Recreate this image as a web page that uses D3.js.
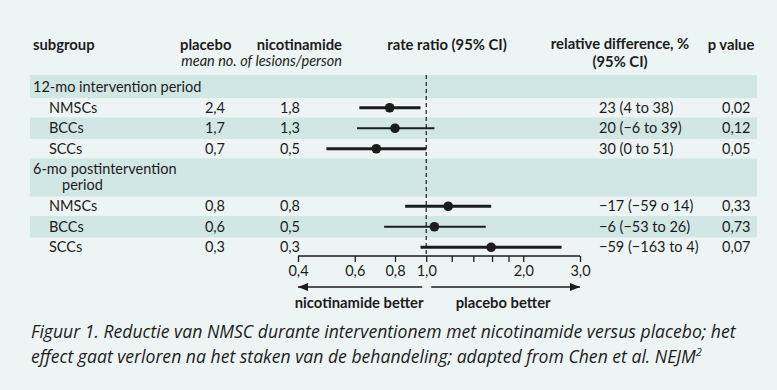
<!DOCTYPE html>
<html>
<head>
<meta charset="utf-8">
<script src="https://cdn.jsdelivr.net/npm/d3@7"></script>
<style>
    body { margin: 0; background: #ecf5f3; }
    svg { display: block; font-family: Lato, "Open Sans", sans-serif; }
</style>
</head>
<body>
<div class="curr-graff"></div>
<script>
// Data
const periods = ["12-mo intervention period", "6-mo postintervention period"];
const subgroups = ["NMSCs", "BCCs", "SCCs", "NMSCs", "BCCs", "SCCs"];
const rowPeriod = [0, 0, 0, 1, 1, 1];
const placeboMean = ["2,4", "1,7", "0,7", "0,8", "0,6", "0,3"];
const nicotinamideMean = ["1,8", "1,3", "0,5", "0,8", "0,5", "0,3"];
const rateRatio = [0.77, 0.80, 0.70, 1.17, 1.06, 1.59];
const ciLow = [0.62, 0.61, 0.49, 0.86, 0.74, 0.96];
const ciHigh = [0.96, 1.06, 1.00, 1.59, 1.53, 2.63];
const relDiff = ["23 (4 to 38)", "20 (\u22126 to 39)", "30 (0 to 51)",
    "\u221217 (\u221259 o 14)", "\u22126 (\u221253 to 26)", "\u221259 (\u2212163 to 4)"];
const pValues = ["0,02", "0,12", "0,05", "0,33", "0,73", "0,07"];
const tickValues = [0.4, 0.6, 0.8, 1.0, 2.0, 3.0];
const minorTicks = [1.2, 1.4, 1.6, 1.8];

let width = 777;
let height = 390;
let bg = "#ecf5f3";
let stripe = "#d1e7e4";
let ink = "#1c1c1c";
let fs = 14.5;      // body text size
let fsHead = 14.8;  // bold header size

let svg = d3.select(".curr-graff")
    .append("svg")
    .attr("width", width)
    .attr("height", height);

svg.append("rect").attr("width", width).attr("height", height).attr("fill", bg);

// Log scale for the rate ratio
let xScale = d3.scaleLog()
    .domain([0.4, 3.0])
    .range([298, 580]);

// Build the row layout (group headers and subgroup rows)
let layout = [];
let y = 75;
let striped = false;
for (let i = 0; i < subgroups.length; i++) {
    if (i === 0 || rowPeriod[i] !== rowPeriod[i - 1]) {
        let h = rowPeriod[i] === 0 ? 23 : 38;
        layout.push({ type: "head", y0: y, h: h, label: periods[rowPeriod[i]] });
        y += h;
        striped = false;
    }
    let h = striped ? 21.5 : 19.5;
    layout.push({ type: "row", y0: y, h: h, i: i, striped: striped });
    y += h;
    striped = !striped;
}

// Stripes
svg.selectAll(".stripe")
    .data(layout.filter(d => d.type === "head" || d.striped))
    .enter().append("rect")
    .attr("x", 30)
    .attr("width", 727)
    .attr("y", d => d.y0)
    .attr("height", d => d.h)
    .attr("fill", stripe);

// Column headers
let head = svg.append("g").attr("fill", ink).attr("font-weight", "bold").attr("font-size", fsHead);
head.append("text").attr("x", 33).attr("y", 50).text("subgroup");
head.append("text").attr("x", 180).attr("y", 50).text("placebo");
head.append("text").attr("x", 342).attr("y", 50).attr("text-anchor", "end").text("nicotinamide");
head.append("text").attr("x", 447).attr("y", 50).attr("text-anchor", "middle").text("rate ratio (95% CI)");
head.append("text").attr("x", 620).attr("y", 49).attr("text-anchor", "middle").text("relative difference, %");
head.append("text").attr("x", 620).attr("y", 67).attr("text-anchor", "middle").text("(95% CI)");
head.append("text").attr("x", 731).attr("y", 50).attr("text-anchor", "middle").text("p value");
svg.append("text").attr("x", 342).attr("y", 66).attr("text-anchor", "end")
    .attr("font-style", "italic").attr("font-size", fs).attr("fill", ink)
    .text("mean no. of lesions/person");

// Group header text
layout.filter(d => d.type === "head").forEach(function(d) {
    let t = svg.append("text").attr("font-size", fs).attr("fill", ink);
    if (d.h > 30) {
        // Two-line label, second line indented
        let words = d.label.split(" ");
        t.append("tspan").attr("x", 33).attr("y", d.y0 + 15).text(words.slice(0, -1).join(" "));
        t.append("tspan").attr("x", 62).attr("y", d.y0 + 31).text(words[words.length - 1]);
    } else {
        t.attr("x", 33).attr("y", d.y0 + 17).text(d.label);
    }
});

// Subgroup rows
let rows = layout.filter(d => d.type === "row");
let rowG = svg.selectAll(".row")
    .data(rows)
    .enter().append("g")
    .attr("transform", d => `translate(0, ${d.y0 + d.h / 2})`)
    .attr("font-size", fs)
    .attr("fill", ink);

rowG.append("text").attr("x", 49).attr("y", 5).text(d => subgroups[d.i]);
rowG.append("text").attr("x", 225).attr("y", 5).attr("text-anchor", "end").text(d => placeboMean[d.i]);
rowG.append("text").attr("x", 300).attr("y", 5).attr("text-anchor", "end").text(d => nicotinamideMean[d.i]);
rowG.append("text").attr("x", 599).attr("y", 5).text(d => relDiff[d.i]);
rowG.append("text").attr("x", 722).attr("y", 5).text(d => pValues[d.i]);

// Reference line at rate ratio 1
svg.append("line")
    .attr("x1", xScale(1)).attr("x2", xScale(1))
    .attr("y1", 75).attr("y2", 256)
    .attr("stroke", ink)
    .attr("stroke-width", 1.2)
    .attr("stroke-dasharray", "4,3");

// Confidence intervals and estimates
rowG.append("line")
    .attr("x1", d => xScale(ciLow[d.i]))
    .attr("x2", d => xScale(ciHigh[d.i]))
    .attr("stroke", ink)
    .attr("stroke-width", d => subgroups[d.i] === "BCCs" ? 2.2 : 3.2);

rowG.append("circle")
    .attr("cx", d => xScale(rateRatio[d.i]))
    .attr("r", 4.8)
    .attr("fill", ink);

// X axis
let xAxis = d3.axisBottom(xScale)
    .tickValues(tickValues.concat(minorTicks))
    .tickSize(6)
    .tickPadding(4)
    .tickFormat(d => tickValues.includes(d) ? d3.format(".1f")(d).replace(".", ",") : "");

let axisG = svg.append("g")
    .attr("transform", "translate(0,256)")
    .call(xAxis);
axisG.select(".domain").attr("d", `M${xScale(0.4)},0H${xScale(3)}`).attr("stroke", ink).attr("stroke-width", 1.3);
axisG.selectAll(".tick line").attr("stroke", ink).attr("stroke-width", 1.3);
axisG.selectAll(".tick text")
    .attr("fill", ink)
    .attr("font-size", fs)
    .attr("font-family", "Lato, 'Open Sans', sans-serif");

// Arrows below the axis
svg.append("defs").append("marker")
    .attr("id", "arrow")
    .attr("viewBox", "0 0 10 8")
    .attr("refX", 10).attr("refY", 4)
    .attr("markerWidth", 10).attr("markerHeight", 8)
    .attr("markerUnits", "userSpaceOnUse")
    .attr("orient", "auto")
    .append("path").attr("d", "M0,0L10,4L0,8Z").attr("fill", ink);

svg.append("line")
    .attr("x1", xScale(1) - 4).attr("x2", xScale(0.4))
    .attr("y1", 287).attr("y2", 287)
    .attr("stroke", ink).attr("stroke-width", 1.3)
    .attr("marker-end", "url(#arrow)");
svg.append("line")
    .attr("x1", xScale(1) + 5).attr("x2", xScale(3))
    .attr("y1", 287).attr("y2", 287)
    .attr("stroke", ink).attr("stroke-width", 1.3)
    .attr("marker-end", "url(#arrow)");

svg.append("text")
    .attr("x", (xScale(0.4) + xScale(1)) / 2 - 3).attr("y", 308)
    .attr("text-anchor", "middle").attr("font-weight", "bold").attr("font-size", fsHead).attr("fill", ink)
    .text("nicotinamide better");
svg.append("text")
    .attr("x", (xScale(1) + xScale(3)) / 2).attr("y", 308)
    .attr("text-anchor", "middle").attr("font-weight", "bold").attr("font-size", fsHead).attr("fill", ink)
    .text("placebo better");

// Caption
let cap = svg.append("text")
    .attr("font-family", "'Open Sans', sans-serif")
    .attr("font-style", "italic")
    .attr("font-size", 17.6)
    .attr("fill", ink);
cap.append("tspan").attr("x", 31).attr("y", 338)
    .text("Figuur 1. Reductie van NMSC durante interventionem met nicotinamide versus placebo; het");
cap.append("tspan").attr("x", 31).attr("y", 363)
    .text("effect gaat verloren na het staken van de behandeling; adapted from Chen et al. NEJM");
cap.append("tspan").attr("dy", -7).attr("font-size", 11).text("2");
</script>
</body>
</html>
